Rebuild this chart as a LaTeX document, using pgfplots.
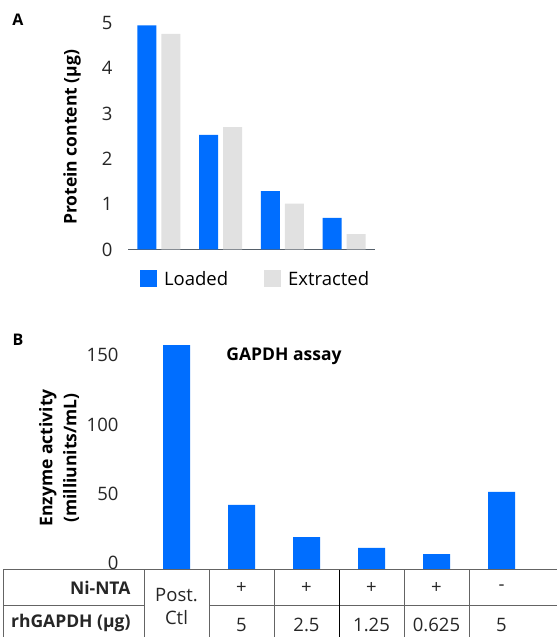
\documentclass[border=0pt]{standalone}
\usepackage{pgfplots}
\pgfplotsset{compat=1.18}
\usepackage{fontspec}
\setmainfont{Open Sans}
\definecolor{bblue}{RGB}{0,110,255}
\definecolor{lgray}{RGB}{225,225,225}
\definecolor{axgray}{RGB}{85,95,105}
\definecolor{tgray}{RGB}{100,100,100}
\begin{document}
\begin{tikzpicture}[x=1pt,y=1pt]
\useasboundingbox (0,0) rectangle (557,637);
\clip (0,0) rectangle (557,637);
% Panel A
\node[font=\bfseries\fontsize{16}{16}\selectfont] at (18,617) {A};
\begin{axis}[
  at={(128pt,387.5pt)}, anchor=south west,
  x=61.75pt, y=45.3pt,
  xmin=-0.5, xmax=3.5, ymin=0, ymax=5.4,
  axis x line*=bottom, axis y line*=left,
  x axis line style={axgray, line width=1pt, -},
  y axis line style={draw=none},
  xtick=\empty, ytick={0,1,2,3,4,5}, major tick length=0pt,
  ybar, bar width=19pt,
  /pgf/number format/assume math mode=true,
  ticklabel style={font=\fontsize{18.5}{18.5}\selectfont, text=black!85},
  yticklabel style={xshift=-12pt},
  ylabel={Protein content (µg)},
  ylabel style={font=\bfseries\fontsize{17.5}{17.5}\selectfont, anchor=center},
  every axis y label/.append style={at={(-56pt,112pt)}},
  legend style={at={(0.0486,-0.1206)}, anchor=west, draw=none, fill=none,
    legend columns=2, font=\fontsize{18.5}{18.5}\selectfont, inner sep=0pt, outer sep=0pt,
    /tikz/every odd column/.style={column sep=5pt},
    /tikz/every even column/.style={column sep=34pt}},
  legend image code/.code={\fill[#1] (0pt,-8.5pt) rectangle (17pt,8.5pt);},
]
\addplot[fill=bblue, draw=none, bar shift=-12pt] coordinates {(0,4.95) (1,2.53) (2,1.29) (3,0.70)};
\addplot[fill=lgray, draw=none, bar shift=12pt] coordinates {(0,4.76) (1,2.70) (2,1.01) (3,0.34)};
\legend{Loaded, Extracted}
\end{axis}
% Panel B
\node[font=\bfseries\fontsize{16}{16}\selectfont] at (18,297) {B};
\begin{axis}[
  at={(133pt,67pt)}, anchor=south west,
  x=65pt, y=1.386pt,
  xmin=-0.67, xmax=5.85, ymin=0, ymax=168,
  axis x line*=bottom, axis y line*=left,
  x axis line style={tgray, line width=1pt, -},
  y axis line style={draw=none},
  xtick=\empty, ytick={0,50,100,150}, major tick length=0pt,
  ybar, bar width=27pt,
  /pgf/number format/assume math mode=true,
  ticklabel style={font=\fontsize{18.5}{18.5}\selectfont, text=black!85},
  yticklabel style={xshift=-11pt, yshift=7pt},
  ylabel={\begin{tabular}{c}Enzyme activity\\(milliunits/mL)\end{tabular}},
  ylabel style={font=\bfseries\fontsize{17.5}{24}\selectfont, anchor=center},
  every axis y label/.append style={at={(-73.5pt,112pt)}},
  title={GAPDH assay},
  title style={font=\bfseries\fontsize{17.5}{17.5}\selectfont, at={(151pt,208pt)}, anchor=center},
]
\addplot[fill=bblue, draw=none, bar shift=0pt] coordinates {(0,162.3) (1,46.9) (2,23.8) (3,15.9) (4,11.5) (5,56.3)};
\end{axis}
% table
\begin{scope}[tgray, line width=1pt]
\draw (3,67) -- (557,67);
\draw (3,31.3) -- (144,31.3);
\draw (209,31.3) -- (557,31.3);
\foreach \xx in {3,144,209,274,404,469} \draw (\xx,67) -- (\xx,-2);
\draw[black] (339,67) -- (339,-2);
\end{scope}
\begin{scope}[font=\fontsize{18.5}{18.5}\selectfont, text=black!85]
\node[anchor=east, font=\bfseries\fontsize{17.5}{17.5}\selectfont] at (134,49) {Ni-NTA};
\node[anchor=east, font=\bfseries\fontsize{17.5}{17.5}\selectfont] at (134,14) {rhGAPDH (µg)};
\node at (176.5,42) {Post.};
\node at (176.5,19) {Ctl};
\foreach \xx in {241.5,306.5,371.5,436.5} \node at (\xx,49) {+};
\node at (501.5,49) {-};
\node at (241.5,12) {5};
\node at (306.5,12) {2.5};
\node at (371.5,12) {1.25};
\node at (436.5,12) {0.625};
\node at (501.5,12) {5};
\end{scope}
\end{tikzpicture}
\end{document}
